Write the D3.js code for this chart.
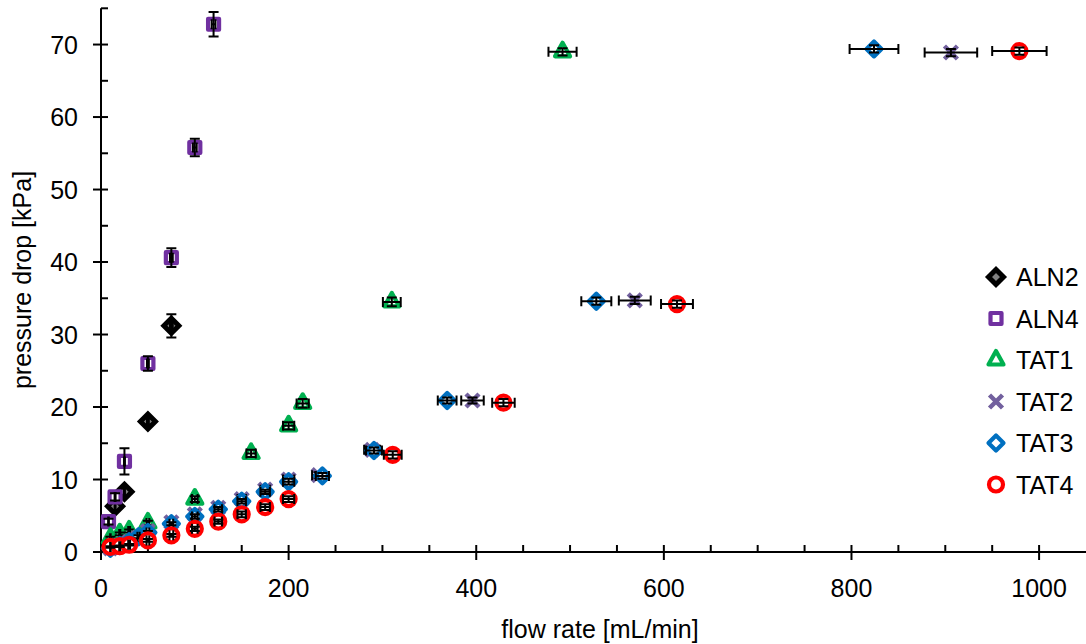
<!DOCTYPE html>
<html><head><meta charset="utf-8">
<script src="https://cdn.jsdelivr.net/npm/d3@7"></script>
<style>
html,body{margin:0;padding:0;background:#fff;}
text{font-family:"Liberation Sans",Arial,sans-serif;fill:#000;}
</style></head>
<body>
<svg id="chart" width="1086" height="644"></svg>
<script>
// ---- data ----
const seriesNames = ["ALN2","ALN4","TAT1","TAT2","TAT3","TAT4"];

const aln2X = [15, 25, 50, 75];
const aln2Y = [6.3, 8.3, 18.0, 31.2];
const aln2XErr = [0.5, 0.5, 1, 1.5];
const aln2YErr = [0.5, 0.6, 0.4, 1.6];

const aln4X = [8, 15, 25, 50, 75, 100, 120];
const aln4Y = [4.2, 7.6, 12.5, 26.0, 40.6, 55.8, 72.8];
const aln4XErr = [0.3, 0.5, 0.5, 1, 1.5, 2, 2];
const aln4YErr = [0.4, 0.5, 1.8, 1.0, 1.3, 1.2, 1.7];

const tat1X = [10, 20, 30, 50, 100, 160, 200, 215, 310, 492];
const tat1Y = [1.9, 2.5, 2.9, 4.0, 7.3, 13.6, 17.4, 20.5, 34.5, 69.0];
const tat1XErr = [0.3, 0.6, 1, 1.5, 3, 5, 6, 6.5, 9.5, 15];
const tat1YErr = [0.2, 0.2, 0.2, 0.3, 0.4, 0.5, 0.5, 0.6, 0.6, 0.5];

const tat2X = [10, 20, 30, 40, 50, 75, 100, 125, 150, 175, 200, 232, 289, 396, 569, 906];
const tat2Y = [0.5, 0.9, 1.4, 2.0, 2.9, 4.1, 5.2, 6.1, 7.3, 8.6, 10.0, 10.6, 14.1, 20.9, 34.7, 68.9];
const tat2XErr = [0.3, 0.6, 1, 1.2, 1.5, 2, 3, 4, 4.5, 5, 6, 7, 8.5, 12, 17, 28];
const tat2YErr = [0.1, 0.1, 0.1, 0.2, 0.2, 0.2, 0.3, 0.3, 0.3, 0.3, 0.4, 0.4, 0.4, 0.4, 0.5, 0.5];

const tat3X = [10, 20, 30, 40, 50, 75, 100, 125, 150, 175, 200, 236, 291, 369, 528, 824];
const tat3Y = [0.5, 0.9, 1.4, 2.1, 2.7, 3.9, 4.9, 5.9, 7.0, 8.3, 9.7, 10.5, 14.0, 20.9, 34.6, 69.4];
const tat3XErr = [0.3, 0.6, 1, 1.2, 1.5, 2, 3, 4, 4.5, 5, 6, 7, 8.5, 10, 16, 26];
const tat3YErr = [0.1, 0.1, 0.1, 0.2, 0.2, 0.2, 0.3, 0.3, 0.3, 0.3, 0.4, 0.4, 0.4, 0.4, 0.5, 0.5];

const tat4X = [10, 20, 30, 50, 75, 100, 125, 150, 175, 200, 311, 429, 614, 979];
const tat4Y = [0.7, 0.8, 1.0, 1.6, 2.3, 3.2, 4.2, 5.2, 6.2, 7.3, 13.4, 20.6, 34.2, 69.1];
const tat4XErr = [0.3, 0.6, 1, 1.5, 2, 3, 4, 4.5, 5, 6, 9.5, 12, 17, 29];
const tat4YErr = [0.1, 0.1, 0.1, 0.2, 0.2, 0.3, 0.3, 0.4, 0.4, 0.4, 0.5, 0.5, 0.5, 0.5];

const xMajorTicks = [0, 200, 400, 600, 800, 1000];
const xMinorTicks = d3.range(50, 1050, 50);
const yMajorTicks = [0, 10, 20, 30, 40, 50, 60, 70];
const yMinorTicks = [5, 15, 25, 35, 45, 55, 65, 75];
const xTitle = "flow rate [mL/min]";
const yTitle = "pressure drop [kPa]";

// ---- build ----
const series = [
  {name:"ALN2", x:aln2X, y:aln2Y, xe:aln2XErr, ye:aln2YErr, shape:"diamondFilled", color:"#000000"},
  {name:"ALN4", x:aln4X, y:aln4Y, xe:aln4XErr, ye:aln4YErr, shape:"square", color:"#7030A0"},
  {name:"TAT1", x:tat1X, y:tat1Y, xe:tat1XErr, ye:tat1YErr, shape:"triangle", color:"#00B050"},
  {name:"TAT2", x:tat2X, y:tat2Y, xe:tat2XErr, ye:tat2YErr, shape:"cross", color:"#72609E"},
  {name:"TAT3", x:tat3X, y:tat3Y, xe:tat3XErr, ye:tat3YErr, shape:"diamond", color:"#0070C0"},
  {name:"TAT4", x:tat4X, y:tat4Y, xe:tat4XErr, ye:tat4YErr, shape:"circle", color:"#FF0000"}
];

const svg = d3.select("#chart");
const x = d3.scaleLinear().domain([0, 1050]).range([101, 1086]);
const y = d3.scaleLinear().domain([0, 75]).range([552, 8.3]);

function markerPath(shape){
  switch(shape){
    case "diamondFilled": { const r=7.5; return `M0,${-r}L${r},0L0,${r}L${-r},0Z`; }
    case "diamond": { const r=7.5; return `M0,${-r}L${r},0L0,${r}L${-r},0Z`; }
    case "square": { const s=5.5; return `M${-s},${-s}H${s}V${s}H${-s}Z`; }
    case "triangle": { const h=13.5, w=15; return `M0,${-h*2/3}L${w/2},${h/3}L${-w/2},${h/3}Z`; }
    case "cross": { const s=6.5; return `M${-s},${-s}L${s},${s}M${-s},${s}L${s},${-s}`; }
    case "circle": { const r=7; return `M${r},0A${r},${r} 0 1,1 ${-r},0A${r},${r} 0 1,1 ${r},0Z`; }
  }
}
function styleMarker(sel, s){
  if (s.shape === "diamondFilled"){
    sel.attr("fill","#808080").attr("stroke","#000").attr("stroke-width",5).attr("stroke-linejoin","miter");
  } else if (s.shape === "cross"){
    sel.attr("fill","none").attr("stroke",s.color).attr("stroke-width",4.5).attr("stroke-linecap","butt");
  } else {
    sel.attr("fill","#fff").attr("stroke",s.color).attr("stroke-width",4.2).attr("stroke-linejoin","round");
  }
}

// axes
const axis = svg.append("g").attr("stroke","#000").attr("stroke-width",2);
axis.append("line").attr("x1",x(0)).attr("x2",x(1050)).attr("y1",y(0)).attr("y2",y(0));
axis.append("line").attr("x1",x(0)).attr("x2",x(0)).attr("y1",y(0)).attr("y2",y(75));
xMajorTicks.forEach(v=>axis.append("line").attr("x1",x(v)).attr("x2",x(v)).attr("y1",y(0)-7).attr("y2",y(0)+8));
xMinorTicks.filter(v=>!xMajorTicks.includes(v)).forEach(v=>axis.append("line").attr("x1",x(v)).attr("x2",x(v)).attr("y1",y(0)-7).attr("y2",y(0)));
yMajorTicks.forEach(v=>axis.append("line").attr("x1",x(0)-8).attr("x2",x(0)+7).attr("y1",y(v)).attr("y2",y(v)));
yMinorTicks.forEach(v=>axis.append("line").attr("x1",x(0)).attr("x2",x(0)+7).attr("y1",y(v)).attr("y2",y(v)));

svg.append("g").selectAll("text").data(yMajorTicks).join("text")
  .attr("x",78).attr("y",d=>y(d)).attr("dy","0.36em").attr("text-anchor","end")
  .attr("font-size",25).text(d=>d);
svg.append("g").selectAll("text").data(xMajorTicks).join("text")
  .attr("x",d=>x(d)).attr("y",588).attr("dy","0.36em").attr("text-anchor","middle")
  .attr("font-size",25).text(d=>d);
svg.append("text").attr("x",600).attr("y",629).attr("dy","0.36em").attr("text-anchor","middle")
  .attr("font-size",25).text(xTitle);
svg.append("text").attr("transform","translate(22,280) rotate(-90)").attr("dy","0.36em")
  .attr("text-anchor","middle").attr("font-size",25).text(yTitle);

// series
const plot = svg.append("g");
series.forEach(s=>{
  const g = plot.append("g");
  const pts = s.x.map((xv,i)=>({x:xv, y:s.y[i], xe:s.xe[i], ye:s.ye[i]}));
  const m = g.selectAll("path.m").data(pts).join("path").attr("class","m")
    .attr("transform",d=>`translate(${x(d.x)},${y(d.y)})`).attr("d",markerPath(s.shape));
  styleMarker(m, s);
  const eb = g.append("g").attr("stroke","#000").attr("stroke-width",2).attr("fill","none");
  pts.forEach(d=>{
    const cx=x(d.x), cy=y(d.y);
    const x1=x(d.x-d.xe), x2=x(d.x+d.xe), y1=y(d.y+d.ye), y2=y(d.y-d.ye);
    eb.append("path").attr("d",`M${x1},${cy}H${x2}M${x1},${cy-5}V${cy+5}M${x2},${cy-5}V${cy+5}`);
    eb.append("path").attr("d",`M${cx},${y1}V${y2}M${cx-5},${y1}H${cx+5}M${cx-5},${y2}H${cx+5}`);
  });
});

// legend
const leg = svg.append("g");
series.forEach((s,i)=>{
  const ly = 277 + i*41.5;
  const mk = leg.append("path").attr("transform",`translate(996,${ly})`).attr("d",markerPath(s.shape));
  styleMarker(mk, s);
  leg.append("text").attr("x",1016).attr("y",ly).attr("dy","0.36em").attr("font-size",25).text(s.name);
});
</script>
</body></html>
